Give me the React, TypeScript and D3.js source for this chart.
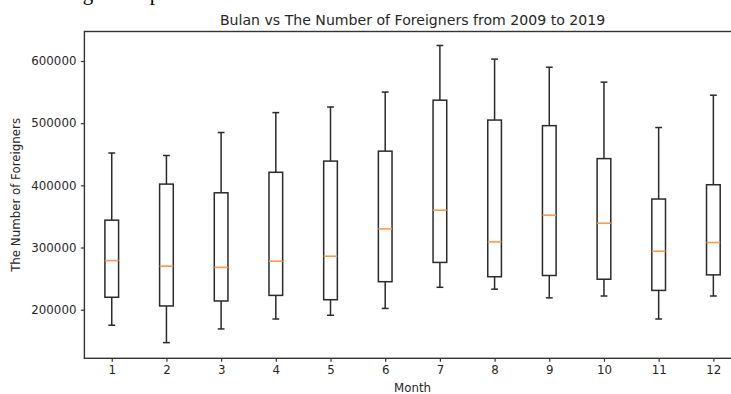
import React from "react";
import * as d3 from "d3";

// box plot stats, one entry per month
const months = [1, 2, 3, 4, 5, 6, 7, 8, 9, 10, 11, 12];
const whiskerLow = [175000, 147000, 169000, 185000, 191000, 202000, 236000, 233000, 219000, 222000, 185000, 222000];
const q1 = [220000, 206000, 214000, 223000, 216000, 245000, 276000, 253000, 255000, 249000, 231000, 256000];
const medians = [279000, 270000, 268000, 278000, 286000, 330000, 360000, 309000, 352000, 339000, 294000, 308000];
const q3 = [344000, 402000, 388000, 421000, 439000, 455000, 537000, 505000, 496000, 443000, 378000, 401000];
const whiskerHigh = [452000, 448000, 485000, 517000, 526000, 550000, 625000, 603000, 590000, 566000, 493000, 545000];
const yTicks = [200000, 300000, 400000, 500000, 600000];
const yLimits = [121800, 647450];

const W = 731;
const H = 394;
const margin = { left: 84.4, right: 740.7, top: 31.5, bottom: 358.3 };
const FONT = "'DejaVu Sans', sans-serif";
const INK = "#262626";

const App = () => {
  const svgRef = React.useRef(null);

  React.useEffect(() => {
    const svg = d3.select(svgRef.current);
    svg.selectAll("*").remove();

    const x = d3.scaleLinear().domain([0.5, 12.5]).range([margin.left, margin.right]);
    const y = d3.scaleLinear().domain(yLimits).range([margin.bottom, margin.top]);
    const boxW = x(1.25) - x(1);
    const capW = boxW / 2;

    // cropped line of the surrounding document, only descenders show
    svg.append("text")
      .attr("x", 43)
      .attr("y", 0)
      .attr("font-family", "'Liberation Serif', serif")
      .attr("font-size", 21)
      .attr("fill", "#000")
      .text("Using a box plot");

    const data = months.map((m, i) => ({
      m, lo: whiskerLow[i], q1: q1[i], med: medians[i], q3: q3[i], hi: whiskerHigh[i],
    }));

    const g = svg.append("g");
    const boxes = g.selectAll(".box").data(data).enter().append("g");

    const stroke = "#2a2a2a";
    const sw = 1.5;
    // whiskers
    boxes.append("line")
      .attr("x1", (d) => x(d.m)).attr("x2", (d) => x(d.m))
      .attr("y1", (d) => y(d.q3)).attr("y2", (d) => y(d.hi))
      .attr("stroke", stroke).attr("stroke-width", sw);
    boxes.append("line")
      .attr("x1", (d) => x(d.m)).attr("x2", (d) => x(d.m))
      .attr("y1", (d) => y(d.q1)).attr("y2", (d) => y(d.lo))
      .attr("stroke", stroke).attr("stroke-width", sw);
    // caps
    boxes.append("line")
      .attr("x1", (d) => x(d.m) - capW / 2).attr("x2", (d) => x(d.m) + capW / 2)
      .attr("y1", (d) => y(d.hi)).attr("y2", (d) => y(d.hi))
      .attr("stroke", stroke).attr("stroke-width", sw);
    boxes.append("line")
      .attr("x1", (d) => x(d.m) - capW / 2).attr("x2", (d) => x(d.m) + capW / 2)
      .attr("y1", (d) => y(d.lo)).attr("y2", (d) => y(d.lo))
      .attr("stroke", stroke).attr("stroke-width", sw);
    // box
    boxes.append("rect")
      .attr("x", (d) => x(d.m) - boxW / 2)
      .attr("width", boxW)
      .attr("y", (d) => y(d.q3))
      .attr("height", (d) => y(d.q1) - y(d.q3))
      .attr("fill", "none")
      .attr("stroke", stroke).attr("stroke-width", sw);
    // median
    boxes.append("line")
      .attr("x1", (d) => x(d.m) - boxW / 2).attr("x2", (d) => x(d.m) + boxW / 2)
      .attr("y1", (d) => y(d.med)).attr("y2", (d) => y(d.med))
      .attr("stroke", "#fb9a4a").attr("stroke-width", 1.6);

    // frame
    svg.append("rect")
      .attr("x", margin.left).attr("y", margin.top)
      .attr("width", margin.right - margin.left)
      .attr("height", margin.bottom - margin.top)
      .attr("fill", "none").attr("stroke", "#333").attr("stroke-width", 1.4);

    // x axis
    const xAxis = d3.axisBottom(x).tickValues(months).tickSize(3.5).tickPadding(3.5).tickFormat((v) => `${v}`);
    const xg = svg.append("g").attr("transform", `translate(0,${margin.bottom})`).call(xAxis);
    xg.select(".domain").remove();
    xg.selectAll("line").attr("stroke", "#333").attr("stroke-width", 1.2);
    xg.selectAll("text").attr("font-family", FONT).attr("font-size", 11.8).attr("fill", INK);

    // y axis
    const yAxis = d3.axisLeft(y).tickValues(yTicks).tickSize(3.5).tickPadding(4.5).tickFormat((v) => `${v}`);
    const yg = svg.append("g").attr("transform", `translate(${margin.left},0)`).call(yAxis);
    yg.select(".domain").remove();
    yg.selectAll("line").attr("stroke", "#333").attr("stroke-width", 1.2);
    yg.selectAll("text").attr("font-family", FONT).attr("font-size", 11.8).attr("fill", INK);

    const midX = (margin.left + margin.right) / 2;
    svg.append("text")
      .attr("x", midX).attr("y", 24.5)
      .attr("text-anchor", "middle")
      .attr("font-family", FONT).attr("font-size", 14.1).attr("fill", INK)
      .text("Bulan vs The Number of Foreigners from 2009 to 2019");

    svg.append("text")
      .attr("x", midX).attr("y", 391.5)
      .attr("text-anchor", "middle")
      .attr("font-family", FONT).attr("font-size", 11.8).attr("fill", INK)
      .text("Month");

    svg.append("text")
      .attr("transform", `translate(20,${(margin.top + margin.bottom) / 2}) rotate(-90)`)
      .attr("text-anchor", "middle")
      .attr("font-family", FONT).attr("font-size", 11.8).attr("fill", INK)
      .text("The Number of Foreigners");
  }, []);

  return (
    <div style={{ position: "absolute", left: 0, top: 0, width: W, height: H, overflow: "hidden", background: "#fff" }}>
      <svg ref={svgRef} width={W} height={H} style={{ display: "block" }} />
    </div>
  );
};

export default App;
